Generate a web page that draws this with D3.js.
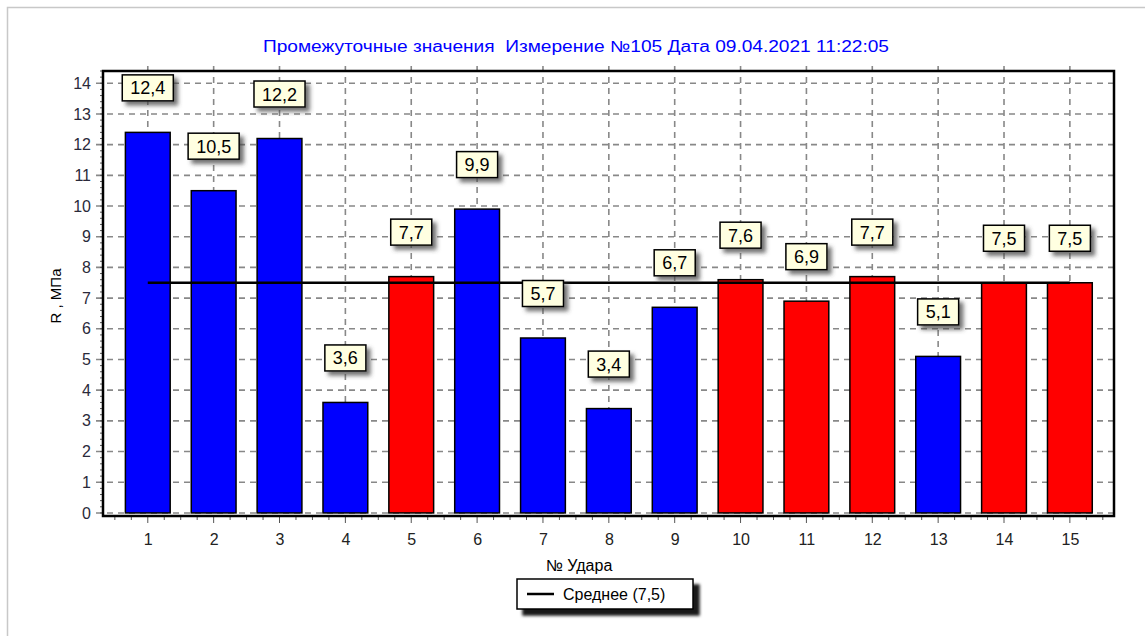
<!DOCTYPE html>
<html lang="ru">
<head>
    <meta charset="UTF-8">
    <script src="https://d3js.org/d3.v7.min.js"></script>
    <title>Промежуточные значения</title>
    <style>
        body { margin: 0; background: #fff; font-family: "Liberation Sans", Arial, sans-serif; }
        svg { display: block; }
    </style>
</head>
<body>
<div id="chart"></div>
<script>
    // данные
    const hits = [1, 2, 3, 4, 5, 6, 7, 8, 9, 10, 11, 12, 13, 14, 15];
    const values = [12.4, 10.5, 12.2, 3.6, 7.7, 9.9, 5.7, 3.4, 6.7, 7.6, 6.9, 7.7, 5.1, 7.5, 7.5];
    const inRange = [false, false, false, false, true, false, false, false, false, true, true, true, false, true, true];
    const yTicks = [0, 1, 2, 3, 4, 5, 6, 7, 8, 9, 10, 11, 12, 13, 14];
    const meanValue = 7.5;
    const title = "Промежуточные значения  Измерение №105 Дата 09.04.2021 11:22:05";

    const W = 1145, H = 636;
    const plot = { left: 103, right: 1114, top: 71, bottom: 516 };

    const svg = d3.select('#chart').append('svg')
        .attr('width', W)
        .attr('height', H);

    const defs = svg.append('defs');
    defs.append('filter').attr('id', 'lblShadow')
        .attr('x', '-20%').attr('y', '-20%').attr('width', '150%').attr('height', '160%')
        .append('feDropShadow')
        .attr('dx', 4).attr('dy', 4).attr('stdDeviation', 2)
        .attr('flood-color', '#444').attr('flood-opacity', 0.75);
    defs.append('filter').attr('id', 'legShadow')
        .attr('x', '-10%').attr('y', '-20%').attr('width', '130%').attr('height', '160%')
        .append('feDropShadow')
        .attr('dx', 6).attr('dy', 6).attr('stdDeviation', 1.5)
        .attr('flood-color', '#000').attr('flood-opacity', 0.9);

    // рамка
    svg.append('rect')
        .attr('x', 7.5).attr('y', 7.5)
        .attr('width', W + 10).attr('height', H + 10)
        .attr('fill', 'none')
        .attr('stroke', '#c8c8c8')
        .attr('stroke-width', 1.5);

    // заголовок
    svg.append('text')
        .attr('x', 576).attr('y', 52)
        .attr('text-anchor', 'middle')
        .attr('font-size', '16px')
        .attr('fill', '#0000ff')
        .style('white-space', 'pre')
        .attr('textLength', 626)
        .attr('lengthAdjust', 'spacingAndGlyphs')
        .text(title);

    // шкалы
    const x = d3.scaleLinear().domain([0.32, 15.67]).range([plot.left, plot.right]);
    const y = d3.scaleLinear().domain([-0.1, 14.4]).range([plot.bottom, plot.top]);
    const halfBar = 0.34;

    // сетка
    const grid = svg.append('g').attr('stroke', '#888').attr('stroke-width', 1.6)
        .attr('stroke-dasharray', '6,5');
    grid.selectAll('line.h').data(yTicks).enter().append('line')
        .attr('class', 'h')
        .attr('x1', plot.left - 7).attr('x2', plot.right)
        .attr('y1', d => y(d)).attr('y2', d => y(d));
    grid.selectAll('line.v').data(hits).enter().append('line')
        .attr('class', 'v')
        .attr('x1', d => x(d)).attr('x2', d => x(d))
        .attr('y1', plot.top - 5).attr('y2', plot.bottom);

    // столбцы
    svg.append('g').selectAll('rect').data(values).enter().append('rect')
        .attr('x', (d, i) => x(hits[i] - halfBar))
        .attr('width', (d, i) => x(hits[i] + halfBar) - x(hits[i] - halfBar))
        .attr('y', d => y(d))
        .attr('height', d => y(0) - y(d))
        .attr('fill', (d, i) => inRange[i] ? '#ff0000' : '#0000ff')
        .attr('stroke', '#000')
        .attr('stroke-width', 1.5);

    // среднее
    svg.append('line')
        .attr('x1', x(hits[0])).attr('x2', x(hits[hits.length - 1]))
        .attr('y1', y(meanValue)).attr('y2', y(meanValue))
        .attr('stroke', '#000').attr('stroke-width', 2.5);

    // оси
    const yAxis = d3.axisLeft(y).tickValues(yTicks).tickSize(0).tickPadding(12);
    const gy = svg.append('g').attr('transform', `translate(${plot.left},0)`).call(yAxis);
    gy.select('.domain').remove();
    gy.selectAll('text').attr('font-size', '16px').attr('fill', '#2a2a3a')
        .attr('font-family', '"Liberation Sans", Arial, sans-serif');

    const xAxis = d3.axisBottom(x).tickValues(hits).tickSize(0).tickPadding(18);
    const gx = svg.append('g').attr('transform', `translate(0,${plot.bottom})`).call(xAxis);
    gx.select('.domain').remove();
    gx.selectAll('text').attr('font-size', '16px').attr('fill', '#222')
        .attr('font-family', '"Liberation Sans", Arial, sans-serif');

    // мелкие деления
    const yMinor = d3.range(0, 14.41, 0.2);
    svg.append('g').selectAll('line').data(yMinor).enter().append('line')
        .attr('x1', plot.left - 3).attr('x2', plot.left)
        .attr('y1', d => y(d)).attr('y2', d => y(d))
        .attr('stroke', '#555').attr('stroke-width', 1);
    const xMinor = d3.range(0.5, 15.6, 0.25);
    svg.append('g').selectAll('line').data(xMinor).enter().append('line')
        .attr('x1', d => x(d)).attr('x2', d => x(d))
        .attr('y1', plot.bottom).attr('y2', d => plot.bottom + (Number.isInteger(d) ? 7 : 4))
        .attr('stroke', '#555').attr('stroke-width', 1);

    svg.append('rect')
        .attr('x', plot.left).attr('y', plot.top)
        .attr('width', plot.right - plot.left).attr('height', plot.bottom - plot.top)
        .attr('fill', 'none').attr('stroke', '#000').attr('stroke-width', 2.5);

    // подписи значений
    const labels = svg.append('g').selectAll('g').data(values).enter().append('g')
        .attr('transform', (d, i) => `translate(${x(hits[i])},${y(d + 1.45)})`);
    labels.append('text')
        .attr('text-anchor', 'middle')
        .attr('dy', '0.36em')
        .attr('font-size', '18px')
        .attr('fill', '#000')
        .text(d => d.toFixed(1).replace('.', ','));
    labels.each(function () {
        const g = d3.select(this);
        const bb = g.select('text').node().getBBox();
        g.insert('rect', 'text')
            .attr('x', bb.x - 8).attr('y', -13)
            .attr('width', bb.width + 16).attr('height', 26)
            .attr('fill', '#ffffe1')
            .attr('stroke', '#000').attr('stroke-width', 1.5)
            .attr('filter', 'url(#lblShadow)');
    });

    // подписи осей
    svg.append('text')
        .attr('transform', 'translate(61,296) rotate(-90)')
        .attr('text-anchor', 'middle')
        .attr('font-size', '15px')
        .attr('fill', '#000')
        .text('R , МПа');
    svg.append('text')
        .attr('x', 579).attr('y', 571)
        .attr('text-anchor', 'middle')
        .attr('font-size', '16px')
        .attr('fill', '#000')
        .text('№ Удара');

    // легенда
    const leg = svg.append('g').attr('transform', 'translate(517,579)');
    leg.append('rect')
        .attr('width', 176).attr('height', 30)
        .attr('fill', '#fff').attr('stroke', '#000').attr('stroke-width', 1.5)
        .attr('filter', 'url(#legShadow)');
    leg.append('line')
        .attr('x1', 10).attr('x2', 37).attr('y1', 15).attr('y2', 15)
        .attr('stroke', '#000').attr('stroke-width', 2.5);
    leg.append('text')
        .attr('x', 46).attr('y', 20.5)
        .attr('font-size', '16px')
        .attr('fill', '#000')
        .text('Среднее (' + meanValue.toFixed(1).replace('.', ',') + ')');
</script>
</body>
</html>
